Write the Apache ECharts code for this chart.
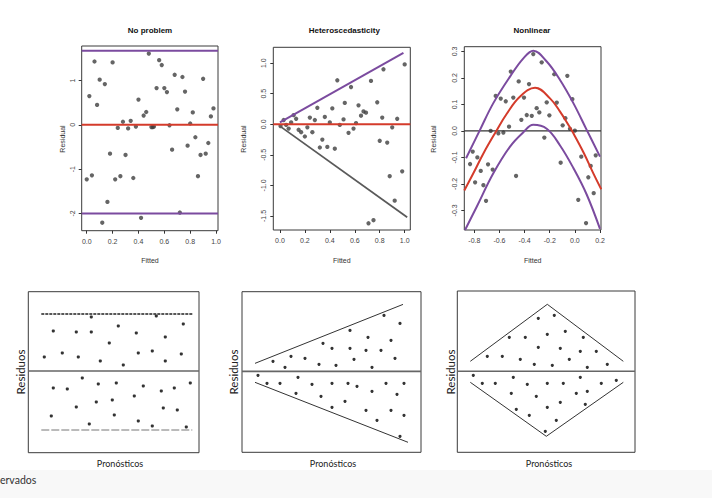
<!DOCTYPE html>
<html><head><meta charset="utf-8">
<script src="https://cdn.jsdelivr.net/npm/echarts@6/dist/echarts.min.js"></script>
<style>html,body{margin:0;padding:0;background:#fff}#c{width:712px;height:498px}</style>
</head><body><div id="c"></div>
<script>
// ---------- Panel 1: No problem ----------
const p1X = [0.00,0.02,0.04,0.06,0.08,0.10,0.12,0.14,0.16,0.18,0.20,0.22,0.24,0.26,0.28,0.30,0.32,0.34,0.36,0.38,0.40,0.42,0.44,0.46,0.48,0.50,0.51,0.52,0.54,0.56,0.58,0.60,0.62,0.64,0.66,0.68,0.70,0.72,0.74,0.76,0.78,0.80,0.82,0.84,0.86,0.88,0.90,0.92,0.94,0.96,0.98];
const p1Y = [-1.23,0.65,-1.14,1.43,0.45,1.02,-2.21,0.92,-1.74,-0.65,1.41,-1.23,-0.07,-1.16,0.07,-0.68,-0.08,0.09,-1.20,-0.04,0.57,-2.10,0.21,0.29,1.61,-0.05,-0.05,-0.04,0.83,1.46,1.35,0.83,0.74,-0.01,-0.56,1.13,0.35,-1.98,1.08,0.75,-0.47,0.03,0.28,-0.28,-1.16,-0.68,1.04,-0.65,-0.41,0.19,0.37];
const p1Fit = 0;             // red fitted level
const p1Bounds = [1.67, -2.0]; // purple bands
const p1XTicks = [0,0.2,0.4,0.6,0.8,1.0];
const p1YTicks = [-2,-1,0,1];

// ---------- Panel 2: Heteroscedasticity ----------
const p2X = [0.005,0.03,0.05,0.07,0.09,0.11,0.13,0.15,0.17,0.20,0.22,0.24,0.26,0.28,0.30,0.32,0.34,0.36,0.38,0.40,0.42,0.44,0.46,0.48,0.51,0.52,0.55,0.57,0.59,0.61,0.63,0.65,0.67,0.69,0.71,0.73,0.75,0.78,0.80,0.82,0.83,0.86,0.88,0.90,0.92,0.94,0.98,1.00];
const p2Y = [-0.03,0.07,-0.01,-0.07,0.03,0.15,0.09,-0.09,-0.13,-0.20,-0.05,0.11,-0.13,0.07,0.27,-0.38,-0.25,0.12,-0.37,0.03,0.26,-0.40,0.72,-0.01,0.08,0.35,-0.14,0.61,-0.07,0.02,0.31,0.14,0.21,0.19,-1.62,0.71,-1.57,0.36,-0.27,0.11,0.90,-0.30,-0.85,-0.05,-1.25,0.09,-0.77,0.98];
const p2Upper = [[0.0,0.03],[0.99,1.17]];
const p2Lower = [[0.0,-0.03],[1.02,-1.52]];
const p2XTicks = [0,0.2,0.4,0.6,0.8,1.0];
const p2YTicks = [-1.5,-1.0,-0.5,0.0,0.5,1.0];

// ---------- Panel 3: Nonlinear ----------
const p3X = [-0.834,-0.813,-0.794,-0.776,-0.749,-0.728,-0.707,-0.691,-0.670,-0.654,-0.630,-0.609,-0.590,-0.569,-0.550,-0.524,-0.510,-0.490,-0.468,-0.447,-0.426,-0.405,-0.383,-0.365,-0.343,-0.331,-0.304,-0.283,-0.264,-0.243,-0.224,-0.203,-0.164,-0.144,-0.113,-0.097,-0.076,-0.060,-0.039,-0.020,0.000,0.027,0.051,0.089,0.107,0.126,0.150,0.166];
const p3Y = [-0.125,-0.078,-0.194,-0.100,-0.151,-0.205,-0.264,-0.126,0.000,-0.146,0.132,-0.009,0.122,-0.006,0.112,0.016,0.224,0.126,-0.170,0.187,0.042,0.126,0.060,0.177,0.057,0.290,0.086,0.070,0.259,-0.025,0.108,0.059,0.214,0.107,-0.120,0.021,0.048,0.208,0.008,0.120,0.001,-0.260,-0.097,-0.348,-0.175,-0.132,-0.235,-0.092];
const p3Fit = [[-0.88,-0.225],[-0.808,-0.16],[-0.728,-0.085],[-0.625,0.0],[-0.542,0.065],[-0.436,0.13],[-0.317,0.163],[-0.198,0.123],[-0.118,0.073],[-0.052,0.023],[-0.012,-0.009],[0.072,-0.084],[0.147,-0.16],[0.21,-0.22]];
const p3Upper = [[-0.866,-0.103],[-0.755,0.004],[-0.649,0.105],[-0.516,0.205],[-0.41,0.274],[-0.331,0.303],[-0.224,0.262],[-0.118,0.192],[-0.012,0.105],[0.094,0.004],[0.2,-0.097]];
const p3Lower = [[-0.874,-0.374],[-0.781,-0.286],[-0.649,-0.16],[-0.516,-0.059],[-0.41,-0.005],[-0.331,0.023],[-0.224,0.008],[-0.118,-0.055],[-0.012,-0.14],[0.094,-0.24],[0.2,-0.37]];
const p3XTicks = [-0.8,-0.6,-0.4,-0.2,0.0,0.2];
const p3YTicks = [-0.3,-0.2,-0.1,0.0,0.1,0.2,0.3];

// ---------- Panel 4: constant variance sketch ----------
const p4Pts = [[63,54],[25,40],[48,39],[63,39],[90,45],[108,38],[128,55],[137,34],[155,47],[81,28],[16,14],[34,18],[50,14],[72,10],[95,6],[110,18],[124,20],[137,10],[153,17],
  [25,-17],[39,-18],[54,-7],[70,-13],[88,-12],[115,-15],[133,-20],[146,-17],[162,-12],[23,-45],[48,-36],[68,-31],[84,-29],[106,-25],[135,-37],[149,-39],[61,-53],[86,-44],[110,-50],[124,-55],[158,-56]];
const p4Top = [[13,57],[164,57]];
const p4Bot = [[13,-59],[164,-59]];

// ---------- Panel 5: funnel sketch ----------
const p5Pts = [[31,10],[43,4],[49,15],[63,13],[77,7],[81,28],[90,23],[94,6],[108,41],[108,23],[112,12],[124,21],[126,34],[130,4],[139,21],[142,56],[149,31],[153,13],[158,48],
  [16,-4],[25,-12],[38,-12],[54,-22],[56,-6],[70,-13],[79,-25],[90,-12],[90,-36],[103,-30],[106,-12],[115,-15],[124,-39],[130,-20],[135,-49],[144,-12],[149,-39],[155,-23],[158,-65],[162,-12],[162,-44]];
const p5Top = [[13,8],[161,67]];
const p5Bot = [[13,-11],[166,-71]];

// ---------- Panel 6: diamond sketch ----------
const p6Pts = [[30,15],[45,15],[63,12],[77,7],[81,24],[81,53],[97,56],[68,34],[52,34],[90,37],[95,6],[103,23],[108,40],[112,12],[123,20],[126,34],[130,4],[139,20],[150,7],
  [16,-4],[25,-12],[38,-12],[54,-22],[56,-6],[70,-13],[59,-38],[72,-44],[79,-25],[90,-12],[90,-36],[88,-60],[99,-49],[103,-31],[106,-12],[119,-22],[123,-6],[128,-33],[130,-20],[144,-12],[159,-9]];
const p6Top = [[13,10],[90,67],[166,10]];
const p6Bot = [[13,-11],[89,-65],[166,-11]];

const titles = ['No problem','Heteroscedasticity','Nonlinear'];
const xName = 'Fitted', yName = 'Residual';
const sketchX = 'Pronósticos', sketchY = 'Residuos';
const footText = 'ervados';

// ---------- build ----------
const zip = (xs, ys) => xs.map((x, i) => [x, ys[i]]);
const PURPLE = '#7b4b9f', RED = '#d43b2b', DOT = '#3e3e3e';
const TF = 'Liberation Sans, Arial, sans-serif';
const SF = 'Lato, "DejaVu Sans", sans-serif';

const grids = [
  {left:81.7, top:46, width:136.3, height:184.7},
  {left:273.3, top:47.3, width:137, height:182.7},
  {left:464.3, top:46.7, width:136.7, height:183.3},
  {left:28.3, top:291.7, width:170.7, height:161},
  {left:242, top:291.7, width:179, height:160.6},
  {left:457.3, top:291, width:177.7, height:161.3}
].map(g => Object.assign(g, {show:true, borderColor:'#3a3a3a', borderWidth:1, backgroundColor:'transparent'}));

const ranges = [
  {x:[-0.039,1.015], y:[-2.39,1.78], xt:p1XTicks, yt:p1YTicks, yf:v => String(v)},
  {x:[-0.053,1.045], y:[-1.73,1.26], xt:p2XTicks, yt:p2YTicks, yf:v => v.toFixed(1)},
  {x:[-0.88,0.208], y:[-0.374,0.318], xt:p3XTicks, yt:p3YTicks, yf:v => v.toFixed(1)}
];
const bottomRanges = [
  {x:[0,170.7], y:[-81.7,79.3]},
  {x:[0,179], y:[-81,79.7]},
  {x:[0,177.7], y:[-81,80.3]}
];

const xAxes = [], yAxes = [];
ranges.forEach((r, i) => {
  xAxes.push({
    type:'value', gridIndex:i, min:r.x[0], max:r.x[1], position:'bottom',
    axisLine:{show:false, onZero:false}, splitLine:{show:false},
    axisTick:{show:true, inside:false, length:3, customValues:r.xt, lineStyle:{color:'#333', width:1}},
    axisLabel:{customValues:r.xt, formatter:v => v.toFixed(1), fontSize:7, color:'#444', margin:7, fontFamily:TF}
  });
  yAxes.push({
    type:'value', gridIndex:i, min:r.y[0], max:r.y[1], position:'left',
    axisLine:{show:false, onZero:false}, splitLine:{show:false},
    axisTick:{show:true, inside:false, length:3, customValues:r.yt, lineStyle:{color:'#333', width:1}},
    axisLabel:{customValues:r.yt, formatter:r.yf, fontSize:7, color:'#444', margin:6, rotate:90, fontFamily:TF}
  });
});
bottomRanges.forEach((r, j) => {
  const i = j + 3;
  xAxes.push({type:'value', gridIndex:i, min:r.x[0], max:r.x[1], show:false, axisLine:{onZero:false}});
  yAxes.push({type:'value', gridIndex:i, min:r.y[0], max:r.y[1], show:false, axisLine:{onZero:false}});
});

const lineS = (i, data, color, width, type, smooth) => ({
  type:'line', xAxisIndex:i, yAxisIndex:i, data, symbol:'none', silent:true, smooth:smooth || false,
  clip:true, lineStyle:{color, width, type:type || 'solid'}, z:3
});
const dotS = (i, data, size, color) => ({
  type:'scatter', xAxisIndex:i, yAxisIndex:i, data, symbolSize:size, silent:true,
  itemStyle:{color}, z:2
});

const series = [
  dotS(0, zip(p1X, p1Y), 4.3, DOT),
  lineS(0, [[ranges[0].x[0], p1Fit],[ranges[0].x[1], p1Fit]], RED, 2),
  lineS(0, [[ranges[0].x[0], p1Bounds[0]],[ranges[0].x[1], p1Bounds[0]]], PURPLE, 2),
  lineS(0, [[ranges[0].x[0], p1Bounds[1]],[ranges[0].x[1], p1Bounds[1]]], PURPLE, 2),

  dotS(1, zip(p2X, p2Y), 4.3, DOT),
  lineS(1, [[ranges[1].x[0], 0],[ranges[1].x[1], 0]], RED, 2),
  lineS(1, p2Upper, PURPLE, 2),
  lineS(1, p2Lower, '#5a5a5a', 1.8),

  dotS(2, zip(p3X, p3Y), 4.3, DOT),
  lineS(2, [[ranges[2].x[0], 0],[ranges[2].x[1], 0]], '#333', 1.2),
  lineS(2, p3Fit, RED, 2, null, 0.4),
  lineS(2, p3Upper, PURPLE, 2, null, 0.4),
  lineS(2, p3Lower, PURPLE, 2, null, 0.4),

  dotS(3, p4Pts, 3.2, '#000'),
  lineS(3, [[0,0],[bottomRanges[0].x[1],0]], '#666', 1.6),
  lineS(3, p4Top, '#222', 1.3, [3,1]),
  lineS(3, p4Bot, '#777', 1, [8,2]),

  dotS(4, p5Pts, 3.2, '#000'),
  lineS(4, [[0,0],[bottomRanges[1].x[1],0]], '#666', 1.6),
  lineS(4, p5Top, '#333', 1),
  lineS(4, p5Bot, '#333', 1),

  dotS(5, p6Pts, 3.2, '#000'),
  lineS(5, [[0,0],[bottomRanges[2].x[1],0]], '#666', 1.6),
  lineS(5, p6Top, '#333', 1),
  lineS(5, p6Bot, '#333', 1)
];

const titleX = [150, 344.3, 532];
const xNameX = [150, 341.8, 532.7];
const yNameX = [62, 243.5, 433];
const sketchCx = [120, 333, 549];
const sketchYx = [20, 233.5, 450];
const graphic = [
  {type:'rect', shape:{x:0, y:470, width:712, height:28}, style:{fill:'#f8f8f8'}, z:-10, silent:true}
];
titles.forEach((t, i) => graphic.push({type:'text', x:titleX[i], y:30, style:{text:t, font:'bold 8px ' + TF, fill:'#111', textAlign:'center', textVerticalAlign:'middle'}}));
xNameX.forEach(x => graphic.push({type:'text', x:x, y:260, style:{text:xName, font:'7px ' + TF, fill:'#333', textAlign:'center', textVerticalAlign:'middle'}}));
yNameX.forEach(x => graphic.push({type:'text', x:x, y:139, rotation:Math.PI/2, style:{text:yName, font:'7px ' + TF, fill:'#333', textAlign:'center', textVerticalAlign:'middle'}}));
sketchCx.forEach(cx => graphic.push({type:'text', x:cx, y:463, style:{text:sketchX, font:'9px ' + SF, fill:'#222', textAlign:'center', textVerticalAlign:'middle'}}));
sketchYx.forEach(x => graphic.push({type:'text', x:x, y:372, rotation:Math.PI/2, style:{text:sketchY, font:'11.5px ' + SF, fill:'#222', textAlign:'center', textVerticalAlign:'middle'}}));
graphic.push({type:'text', x:0, y:480, style:{text:footText, font:'10.5px ' + SF, fill:'#333', textAlign:'left', textVerticalAlign:'middle'}});

const chart = echarts.init(document.getElementById('c'), null, {renderer:'svg'});
chart.setOption({
  animation:false, backgroundColor:'#fff',
  grid:grids, xAxis:xAxes, yAxis:yAxes, series, graphic
});
</script></body></html>
